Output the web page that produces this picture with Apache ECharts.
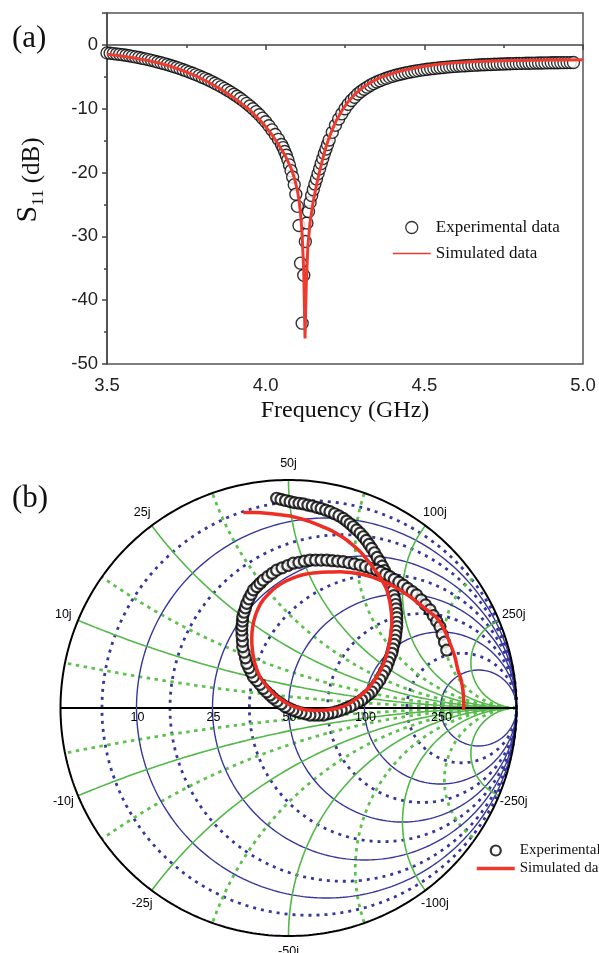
<!DOCTYPE html>
<html><head><meta charset="utf-8">
<script src="https://cdn.jsdelivr.net/npm/echarts@6/dist/echarts.min.js"></script>
<style>html,body{margin:0;padding:0;background:#fff}#c{width:599px;height:953px}</style>
</head><body><div id="c"></div>
<script>
// ---------- Panel (a): S11 vs frequency ----------
const freqExp = [3.50,3.51,3.52,3.53,3.54,3.55,3.56,3.57,3.58,3.59,3.60,3.61,3.62,3.63,3.64,3.65,3.66,3.67,3.68,3.69,
3.70,3.71,3.72,3.73,3.74,3.75,3.76,3.77,3.78,3.79,3.80,3.81,3.82,3.83,3.84,3.85,3.86,3.87,3.88,3.89,
3.90,3.91,3.92,3.93,3.94,3.95,3.96,3.97,3.98,3.99,4.00,4.01,4.02,4.03,4.04,
4.050,4.055,4.060,4.065,4.070,4.075,4.080,4.085,4.090,4.095,4.100,4.105,4.110,4.115,4.120,4.125,4.130,4.135,4.140,4.145,
4.150,4.155,4.160,4.165,4.170,4.175,4.180,4.185,4.190,4.195,
4.20,4.21,4.22,4.23,4.24,4.25,4.26,4.27,4.28,4.29,4.30,4.31,4.32,4.33,4.34,4.35,4.36,4.37,4.38,4.39,
4.40,4.41,4.42,4.43,4.44,4.45,4.46,4.47,4.48,4.49,4.50,4.51,4.52,4.53,4.54,4.55,4.56,4.57,4.58,4.59,
4.60,4.61,4.62,4.63,4.64,4.65,4.66,4.67,4.68,4.69,4.70,4.71,4.72,4.73,4.74,4.75,4.76,4.77,4.78,4.79,
4.80,4.81,4.82,4.83,4.84,4.85,4.86,4.87,4.88,4.89,4.90,4.91,4.92,4.93,4.94,4.95,4.96,4.97];
const s11Exp = [-1.25,-1.30,-1.36,-1.42,-1.48,-1.55,-1.62,-1.70,-1.79,-1.88,-1.98,-2.08,-2.19,-2.30,-2.42,-2.54,-2.67,-2.80,-2.94,-3.08,
-3.23,-3.38,-3.54,-3.71,-3.89,-4.07,-4.26,-4.45,-4.65,-4.85,-5.06,-5.28,-5.51,-5.75,-6.00,-6.26,-6.53,-6.81,-7.10,-7.40,
-7.72,-8.05,-8.40,-8.77,-9.16,-9.57,-10.00,-10.46,-10.95,-11.48,-12.05,-12.66,-13.32,-14.03,-14.80,
-15.6,-16.1,-16.7,-17.3,-18.0,-18.8,-19.7,-20.7,-21.9,-23.4,-25.3,-28.3,-34.2,-43.6,-36.1,-30.8,-27.9,-26.1,-24.7,-23.6,
-22.7,-21.8,-21.0,-20.2,-19.4,-18.6,-17.8,-17.0,-16.3,-15.6,
-14.9,-13.7,-12.6,-11.6,-10.8,-10.0,-9.3,-8.7,-8.2,-7.7,-7.3,-6.95,-6.62,-6.33,-6.06,-5.82,-5.60,-5.40,-5.22,-5.05,
-4.90,-4.76,-4.63,-4.51,-4.40,-4.30,-4.20,-4.11,-4.03,-3.95,-3.88,-3.81,-3.75,-3.69,-3.63,-3.58,-3.53,-3.48,-3.44,-3.40,
-3.36,-3.32,-3.29,-3.26,-3.23,-3.20,-3.17,-3.14,-3.12,-3.10,-3.08,-3.06,-3.04,-3.02,-3.00,-2.98,-2.96,-2.95,-2.93,-2.92,
-2.90,-2.89,-2.88,-2.87,-2.86,-2.85,-2.84,-2.83,-2.82,-2.81,-2.80,-2.80,-2.79,-2.78,-2.78,-2.77,-2.77,-2.76];
const freqSim = [3.50,3.54,3.58,3.62,3.66,3.70,3.74,3.78,3.82,3.86,3.90,3.94,3.96,3.98,4.00,4.02,4.04,4.06,4.08,4.09,
4.10,4.105,4.11,4.115,4.12,4.124,4.128,4.133,4.14,4.15,4.16,4.17,4.18,4.19,4.20,4.22,4.24,4.26,4.28,4.30,
4.33,4.36,4.40,4.45,4.50,4.55,4.60,4.65,4.70,4.75,4.80,4.85,4.90,4.95,5.00];
const s11Sim = [-1.45,-1.70,-2.00,-2.35,-2.80,-3.35,-4.05,-4.85,-5.85,-7.00,-8.30,-9.80,-10.70,-11.70,-12.80,-14.10,-15.60,-17.20,-19.30,-20.80,
-22.80,-24.30,-26.50,-29.80,-35.50,-46.00,-37.50,-31.50,-27.80,-24.50,-22.00,-19.80,-17.80,-16.00,-14.50,-12.10,-10.30,-8.90,-7.80,-6.90,
-5.90,-5.15,-4.45,-3.80,-3.35,-3.00,-2.80,-2.65,-2.55,-2.48,-2.43,-2.40,-2.37,-2.35,-2.33];
const freqTicks = [3.5, 4.0, 4.5, 5.0];
const s11Ticks = [-50, -40, -30, -20, -10, 0];

// ---------- Panel (b): Smith chart (reflection coefficient, re / im) ----------
const smithExpRe = [-0.052,-0.033,-0.013,0.007,0.026,0.046,0.065,0.085,0.104,0.124,0.143,0.163,0.182,0.202,0.221,0.240,0.255,0.270,0.284,0.299,
0.314,0.328,0.341,0.353,0.365,0.377,0.389,0.401,0.411,0.421,0.431,0.438,0.446,0.453,0.457,0.462,0.467,0.470,0.472,0.475,
0.475,0.475,0.475,0.472,0.470,0.467,0.462,0.457,0.453,0.445,0.438,0.431,0.421,0.411,0.401,0.389,0.377,0.365,0.350,0.336,
0.321,0.304,0.287,0.270,0.250,0.231,0.211,0.192,0.172,0.153,0.133,0.114,0.094,0.075,0.055,0.036,0.019,0.002,-0.015,-0.032,
-0.050,-0.067,-0.081,-0.096,-0.111,-0.125,-0.139,-0.154,-0.164,-0.174,-0.183,-0.189,-0.195,-0.201,-0.202,-0.204,-0.205,-0.204,-0.202,-0.201,
-0.195,-0.189,-0.183,-0.174,-0.164,-0.154,-0.139,-0.125,-0.111,-0.091,-0.071,-0.052,-0.028,-0.003,0.021,0.046,0.070,0.094,0.119,0.143,
0.168,0.192,0.216,0.240,0.265,0.289,0.314,0.338,0.362,0.387,0.406,0.426,0.445,0.464,0.484,0.504,0.523,0.543,0.562,0.582,
0.601,0.621,0.635,0.650,0.664,0.674,0.684,0.694];
const smithExpIm = [0.920,0.915,0.910,0.905,0.901,0.898,0.895,0.890,0.886,0.880,0.875,0.868,0.861,0.852,0.843,0.832,0.820,0.808,0.795,0.781,
0.767,0.751,0.735,0.718,0.700,0.681,0.661,0.642,0.622,0.603,0.583,0.566,0.549,0.532,0.513,0.493,0.474,0.454,0.435,0.415,
0.396,0.376,0.357,0.337,0.318,0.298,0.279,0.259,0.240,0.220,0.201,0.181,0.162,0.142,0.123,0.106,0.089,0.071,0.059,0.047,
0.035,0.025,0.015,0.006,-0.002,-0.009,-0.016,-0.021,-0.026,-0.031,-0.031,-0.031,-0.031,-0.026,-0.021,-0.016,-0.009,-0.002,0.006,0.018,
0.030,0.043,0.057,0.071,0.086,0.104,0.120,0.137,0.157,0.176,0.196,0.220,0.245,0.269,0.293,0.318,0.342,0.361,0.381,0.400,
0.420,0.439,0.459,0.479,0.498,0.518,0.532,0.547,0.561,0.576,0.591,0.605,0.615,0.625,0.635,0.639,0.644,0.649,0.649,0.649,
0.649,0.646,0.644,0.642,0.637,0.632,0.627,0.620,0.613,0.605,0.596,0.586,0.576,0.564,0.552,0.539,0.525,0.510,0.496,0.474,
0.452,0.430,0.405,0.381,0.357,0.323,0.289,0.254];
const smithSimRe = [-0.198,-0.147,-0.096,-0.046,0.007,0.050,0.094,0.138,0.182,0.219,0.255,0.285,0.314,0.336,0.357,0.379,0.401,0.417,0.431,0.441,
0.448,0.452,0.453,0.450,0.445,0.436,0.423,0.408,0.387,0.360,0.328,0.292,0.255,0.211,0.168,0.124,0.080,0.042,0.007,-0.033,
-0.067,-0.099,-0.125,-0.143,-0.154,-0.160,-0.161,-0.157,-0.147,-0.132,-0.111,-0.083,-0.052,-0.011,0.036,0.079,0.124,0.173,0.226,0.270,
0.314,0.357,0.401,0.445,0.489,0.526,0.562,0.607,0.649,0.682,0.708,0.730,0.743,0.757,0.765,0.768,0.768];
const smithSimIm = [0.858,0.857,0.854,0.849,0.842,0.831,0.817,0.800,0.781,0.760,0.737,0.712,0.686,0.661,0.635,0.605,0.576,0.547,0.518,0.482,
0.444,0.408,0.371,0.336,0.298,0.254,0.211,0.173,0.137,0.099,0.064,0.037,0.013,-0.002,-0.009,-0.011,-0.009,0.000,0.013,0.037,
0.064,0.099,0.137,0.180,0.225,0.270,0.313,0.357,0.400,0.439,0.474,0.504,0.532,0.557,0.576,0.588,0.593,0.596,0.598,0.594,
0.588,0.577,0.561,0.542,0.518,0.493,0.466,0.430,0.397,0.346,0.285,0.224,0.167,0.123,0.079,0.035,-0.009];
const resistanceMajor = [0.2, 0.5, 1, 2, 5];
const reactanceMajor = [0.2, 0.5, 1, 2, 5];
const resistanceMinor = [0.1, 0.316, 0.707, 1.414, 3.162];
const reactanceMinor = [0.1, 0.316, 0.707, 1.414, 3.162];
const resistanceLabels = ['10', '25', '50', '100', '250'];
const reactanceLabels = ['10j', '25j', '50j', '100j', '250j'];
const reactanceNegLabels = ['-10j', '-25j', '-50j', '-100j', '-250j'];

// ---------- helpers (grid geometry) ----------
const zip = (a, b) => a.map((v, i) => [v, b[i]]);
function rCircle(r) {
  const c = r / (1 + r), R = 1 / (1 + r), pts = [];
  for (let i = 0; i <= 360; i++) { const t = 2 * Math.PI * i / 360; pts.push([c + R * Math.cos(t), R * Math.sin(t)]); }
  return pts;
}
function xArc(x) {
  const s = Math.sign(x), ax = Math.abs(x), R = 1 / ax;
  const g0 = [(ax * ax - 1) / (ax * ax + 1), 2 * ax / (ax * ax + 1)];
  let th0 = Math.atan2(g0[1] - R, g0[0] - 1);
  if (th0 > -Math.PI / 2) th0 -= 2 * Math.PI;
  const pts = [], n = 240;
  for (let i = 0; i <= n; i++) {
    const t = -Math.PI / 2 + (th0 + Math.PI / 2) * i / n;
    pts.push([1 + R * Math.cos(t), s * (R + R * Math.sin(t))]);
  }
  return pts;
}
const NAVY = '#36369c', GREEN = '#52b848', GREEN_D = '#5cc24c';
function gl(pts, color, width, type, z) {
  return { type: 'line', xAxisIndex: 1, yAxisIndex: 1, data: pts, symbol: 'none', showSymbol: false, silent: true,
    clip: false, z: z, lineStyle: { color: color, width: width, type: type, cap: 'butt' }, animation: false };
}
const smithSeries = [];
resistanceMinor.forEach(r => smithSeries.push(gl(rCircle(r), NAVY, 2.8, [3, 5], 1)));
reactanceMinor.forEach(x => { smithSeries.push(gl(xArc(x), GREEN_D, 2.8, [3.5, 4.5], 1)); smithSeries.push(gl(xArc(-x), GREEN_D, 2.8, [3.5, 4.5], 1)); });
resistanceMajor.forEach(r => smithSeries.push(gl(rCircle(r), NAVY, 1.4, 'solid', 2)));
reactanceMajor.forEach(x => { smithSeries.push(gl(xArc(x), GREEN, 1.6, 'solid', 2)); smithSeries.push(gl(xArc(-x), GREEN, 1.6, 'solid', 2)); });
smithSeries.push(gl(rCircle(0), '#000', 2, 'solid', 3));
smithSeries.push(gl([[-1, 0], [1, 0]], '#000', 2, 'solid', 3));

const labelData = [];
resistanceMajor.forEach((r, i) => labelData.push({ name: resistanceLabels[i], value: [(r - 1) / (r + 1), 0], label: { offset: [1, 10] } }));
reactanceMajor.forEach((x, i) => {
  const gr = (x * x - 1) / (x * x + 1), gi = 2 * x / (x * x + 1), k = 1.07;
  labelData.push({ name: reactanceLabels[i], value: [gr * k, gi * k] });
  labelData.push({ name: reactanceNegLabels[i], value: [gr * k, -gi * k] });
});

const SERIF = 'Liberation Serif', SANS = 'Liberation Sans';
const legendItems = [{ name: 'Experimental data' }, { name: 'Simulated data', itemStyle: { color: 'rgba(0,0,0,0)', borderWidth: 0 } }];
const chart = echarts.init(document.getElementById('c'), null, { renderer: 'canvas' });
chart.setOption({
  animation: false,
  backgroundColor: '#fff',
  title: [
    { text: '(a)', left: 12, top: 23, padding: 0, textStyle: { fontFamily: SERIF, fontSize: 31, fontWeight: 'normal', color: '#111' } },
    { text: '(b)', left: 12, top: 483, padding: 0, textStyle: { fontFamily: SERIF, fontSize: 31, fontWeight: 'normal', color: '#111' } }
  ],
  legend: [
    { data: legendItems, orient: 'vertical', left: 392, top: 219, padding: 0, itemWidth: 38, itemHeight: 12, itemGap: 9,
      textStyle: { fontFamily: SERIF, fontSize: 17, color: '#111' }, lineStyle: { width: 1.5 }, itemStyle: { borderWidth: 1.3 }, selectedMode: false },
    { data: legendItems, orient: 'vertical', left: 475, top: 843, padding: 0, itemWidth: 38, itemHeight: 10, itemGap: 3,
      textStyle: { fontFamily: SERIF, fontSize: 15, color: '#111' }, lineStyle: { width: 3.5 }, itemStyle: { borderWidth: 2.2 }, selectedMode: false }
  ],
  grid: [
    { left: 107, top: 13, width: 476, height: 351, show: true, borderColor: '#555', borderWidth: 1.5, backgroundColor: 'transparent' },
    { left: 60.5, top: 480, width: 456, height: 456, show: false }
  ],
  xAxis: [
    { gridIndex: 0, type: 'value', min: freqTicks[0], max: freqTicks[freqTicks.length - 1], interval: 0.5,
      axisLine: { lineStyle: { color: '#444', width: 1.5 } },
      axisTick: { show: true, inside: false, length: 5, lineStyle: { color: '#444', width: 1.5 } },
      minorTick: { show: true, splitNumber: 2, length: 3, lineStyle: { color: '#444', width: 1.5 } },
      splitLine: { show: false },
      axisLabel: { margin: 12, fontFamily: SANS, fontSize: 18.5, color: '#222', formatter: v => v.toFixed(1) },
      name: 'Frequency (GHz)', nameLocation: 'middle', nameGap: 35,
      nameTextStyle: { fontFamily: SERIF, fontSize: 24, color: '#111' } },
    { gridIndex: 1, type: 'value', min: -1, max: 1, show: false }
  ],
  yAxis: [
    { gridIndex: 0, type: 'value', min: -50, max: 5, interval: 10,
      axisLine: { lineStyle: { color: '#444', width: 1.5 } },
      axisTick: { show: true, inside: false, length: 5, lineStyle: { color: '#444', width: 1.5 } },
      minorTick: { show: true, splitNumber: 2, length: 3, lineStyle: { color: '#444', width: 1.5 } },
      splitLine: { show: false },
      axisLabel: { margin: 9, fontFamily: SANS, fontSize: 18.5, color: '#222', formatter: v => (s11Ticks.indexOf(v) >= 0 ? String(v) : '') },
      name: '{s|S}{sub|11}{u| (dB)}', nameLocation: 'middle', nameGap: 60, nameRotate: 90,
      nameTextStyle: { rich: {
        s: { fontFamily: SERIF, fontSize: 30, color: '#111', verticalAlign: 'bottom', lineHeight: 34, padding: [0, 0, 4, 17] },
        sub: { fontFamily: SERIF, fontSize: 17, color: '#111', verticalAlign: 'bottom', lineHeight: 20 },
        u: { fontFamily: SERIF, fontSize: 25, color: '#111', verticalAlign: 'bottom', lineHeight: 28, padding: [0, 0, 2, 0] } } } },
    { gridIndex: 1, type: 'value', min: -1, max: 1, show: false }
  ],
  series: [
    { name: 'Experimental data', type: 'scatter', xAxisIndex: 0, yAxisIndex: 0, data: zip(freqExp, s11Exp),
      symbol: 'circle', symbolSize: 12, z: 3, itemStyle: { color: '#fff', borderColor: '#000', borderWidth: 1.4 } },
    { name: 'Simulated data', type: 'line', xAxisIndex: 0, yAxisIndex: 0, data: zip(freqSim, s11Sim),
      symbol: 'none', smooth: false, z: 4, lineStyle: { color: '#ee3b30', width: 3 } },
    ...smithSeries,
    { type: 'scatter', xAxisIndex: 1, yAxisIndex: 1, data: labelData, symbol: 'circle', symbolSize: 1,
      itemStyle: { color: '#fff', opacity: 1 }, clip: false, silent: true, z: 3,
      label: { show: true, position: 'inside', formatter: p => p.name, fontFamily: SANS, fontSize: 12.5, color: '#000',
        textBorderWidth: 0, textShadowBlur: 0, opacity: 1 } },
    { name: 'Experimental data', type: 'scatter', xAxisIndex: 1, yAxisIndex: 1, data: zip(smithExpRe, smithExpIm),
      symbol: 'circle', symbolSize: 11, z: 5, itemStyle: { color: '#fff', borderColor: '#000', borderWidth: 2.2 } },
    { name: 'Simulated data', type: 'line', xAxisIndex: 1, yAxisIndex: 1, data: zip(smithSimRe, smithSimIm),
      symbol: 'none', smooth: 0.2, z: 6, lineStyle: { color: '#ee2e24', width: 3.5 } }
  ]
});
</script></body></html>
